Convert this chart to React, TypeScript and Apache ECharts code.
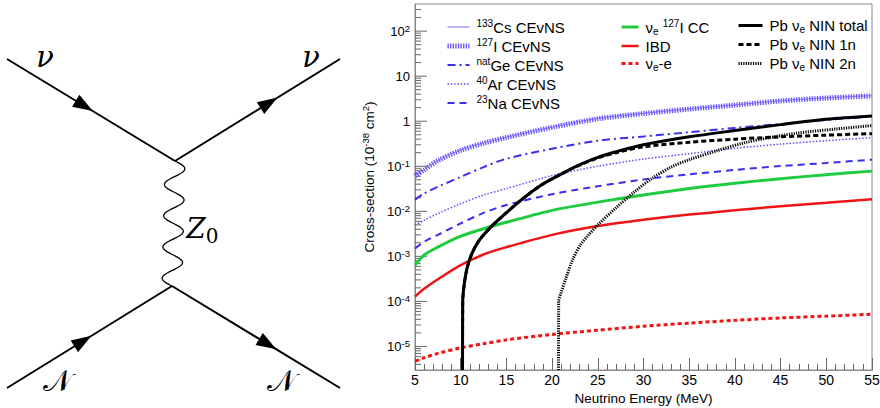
import React, { useEffect, useRef } from 'react';
import * as echarts from 'echarts';

// ---------- data ----------
const ENERGY = [5, 6, 7.5, 10, 12.5, 15, 20, 25, 30, 35, 40, 45, 50, 55];
const CS_CEVNS = [0.063, 0.084, 0.135, 0.23, 0.33, 0.44, 0.74, 1.15, 1.5, 1.88, 2.3, 2.85, 3.3, 3.7];
const I_CEVNS = [0.061, 0.083, 0.133, 0.225, 0.325, 0.435, 0.73, 1.13, 1.48, 1.86, 2.28, 2.82, 3.27, 3.65];
const GE_CEVNS = [0.018, 0.025, 0.035, 0.058, 0.096, 0.147, 0.245, 0.37, 0.46, 0.57, 0.71, 0.87, 1.07, 1.27];
const AR_CEVNS = [0.0049, 0.0063, 0.0089, 0.0148, 0.023, 0.032, 0.062, 0.1, 0.145, 0.19, 0.25, 0.31, 0.37, 0.43];
const NA_CEVNS = [0.0015, 0.0021, 0.003, 0.0054, 0.0092, 0.0138, 0.024, 0.036, 0.051, 0.066, 0.083, 0.101, 0.118, 0.14];
const I_CC = [0.00064, 0.00107, 0.0016, 0.0028, 0.0041, 0.0057, 0.0105, 0.016, 0.023, 0.032, 0.042, 0.053, 0.065, 0.078];
const IBD = [0.000128, 0.00019, 0.00031, 0.00064, 0.0011, 0.0016, 0.003, 0.0047, 0.0065, 0.0085, 0.0105, 0.013, 0.0155, 0.0185];
const NUE_E = [4.7e-6, 5.6e-6, 7e-6, 9.3e-6, 1.15e-5, 1.4e-5, 1.85e-5, 2.3e-5, 2.8e-5, 3.3e-5, 3.8e-5, 4.3e-5, 4.7e-5, 5.2e-5];

const PB_TOTAL_E = [10.2, 10.22, 10.4, 10.7, 11.2, 12, 13.4, 15, 16.3, 18.7, 21.4, 23.1, 25, 27, 30, 35, 40, 45, 50, 55];
const PB_TOTAL = [3e-6, 1e-4, 2.5e-4, 5.5e-4, 1.12e-3, 2.24e-3, 4.7e-3, 9.3e-3, 0.0158, 0.037, 0.074, 0.11, 0.158, 0.21, 0.3, 0.45, 0.62, 0.84, 1.1, 1.3];
const PB_1N_E = [10.2, 10.22, 10.4, 10.7, 11.2, 12, 13.4, 15, 16.3, 18.7, 21.4, 23.1, 25, 27, 30, 35, 40, 45, 50, 55];
const PB_1N = [3e-6, 1e-4, 2.5e-4, 5.5e-4, 1.12e-3, 2.24e-3, 4.7e-3, 9.3e-3, 0.0158, 0.037, 0.074, 0.108, 0.153, 0.2, 0.27, 0.34, 0.4, 0.45, 0.49, 0.53];
const PB_2N_E = [20.7, 20.72, 21, 21.5, 22.2, 23.1, 24, 25, 27, 29, 31, 33, 35, 38, 41, 44, 47, 51, 55];
const PB_2N = [3e-6, 1e-4, 1.6e-4, 3.2e-4, 8e-4, 1.8e-3, 3e-3, 5e-3, 0.012, 0.027, 0.055, 0.095, 0.14, 0.22, 0.33, 0.44, 0.55, 0.67, 0.8];

const X_MIN = 5;
const X_MAX = 55;
const Y_MIN = 3e-6;
const Y_MAX = 400;
const Y_DECADES = [-6, -5, -4, -3, -2, -1, 0, 1, 2];
const Y_MINOR_MULT = [2, 3, 4, 5, 6, 7, 8, 9];

// ---------- styling ----------
const FONT = "'Liberation Sans', Arial, Helvetica, sans-serif";
const BLUE_LIGHT = '#7a6cff';
const BLUE_HATCH = '#6650ff';
const BLUE = '#3a2cf0';
const BLUE_DOT = '#5f4cff';
const GREEN = '#1fcc3f';
const RED = '#f01414';

const LEGEND_LABELS: Record<string, string> = {
  '133Cs CEvNS': '{sup|133}{t|Cs CEvNS}',
  '127I CEvNS': '{sup|127}{t|I CEvNS}',
  'natGe CEvNS': '{sup|nat}{t|Ge CEvNS}',
  '40Ar CEvNS': '{sup|40}{t|Ar CEvNS}',
  '23Na CEvNS': '{sup|23}{t|Na CEvNS}',
  'νe 127I CC': '{t|ν}{sub|e}{t| }{sup|127}{t|I CC}',
  'IBD': '{t|IBD}',
  'νe-e': '{t|ν}{sub|e}{t|-e}',
  'Pb νe NIN total': '{t|Pb ν}{sub|e}{t| NIN total}',
  'Pb νe NIN 1n': '{t|Pb ν}{sub|e}{t| NIN 1n}',
  'Pb νe NIN 2n': '{t|Pb ν}{sub|e}{t| NIN 2n}',
};

const legendRich = {
  t: { fontSize: 15, fontFamily: FONT, color: '#000', lineHeight: 18 },
  sup: { fontSize: 10, fontFamily: FONT, color: '#000', lineHeight: 10, verticalAlign: 'top' },
  sub: { fontSize: 10, fontFamily: FONT, color: '#000', lineHeight: 10, verticalAlign: 'bottom' },
};

function pairs(xs: number[], ys: number[]) {
  return xs.map((x, i) => [x, ys[i]]);
}

function lineSeries(name: string, xs: number[], ys: number[], color: string, width: number, type: any, z: number) {
  return {
    name,
    type: 'line',
    data: pairs(xs, ys),
    symbol: 'none',
    showSymbol: false,
    smooth: 0.3,
    clip: true,
    z,
    lineStyle: { color, width, type, cap: 'butt' },
    itemStyle: { color },
    emphasis: { disabled: true },
  };
}

function makeLegend(names: string[], left: number, itemWidth: number) {
  return {
    data: names,
    orient: 'vertical',
    left,
    top: 13,
    itemWidth,
    itemHeight: 14,
    itemGap: 2.5,
    selectedMode: false,
    itemStyle: { opacity: 0 },
    lineStyle: { width: 'inherit' },
    formatter: (n: string) => LEGEND_LABELS[n] || n,
    textStyle: { rich: legendRich, padding: [0, 0, 0, 2] },
  };
}

// Feynman diagram helpers (pure decoration, pixel space)
function arrowPts(ax: number, ay: number, bx: number, by: number, t: number, len = 20, w = 14) {
  const cx = ax + (bx - ax) * t;
  const cy = ay + (by - ay) * t;
  const L = Math.hypot(bx - ax, by - ay);
  const ux = (bx - ax) / L;
  const uy = (by - ay) / L;
  const px = -uy;
  const py = ux;
  return [
    [cx + (ux * len) / 2, cy + (uy * len) / 2],
    [cx - (ux * len) / 2 + (px * w) / 2, cy - (uy * len) / 2 + (py * w) / 2],
    [cx - (ux * len) / 2 - (px * w) / 2, cy - (uy * len) / 2 - (py * w) / 2],
  ];
}

function wavePts(x1: number, y1: number, x2: number, y2: number, periods: number, amp: number) {
  const pts: number[][] = [];
  const N = 240;
  for (let i = 0; i <= N; i++) {
    const t = i / N;
    pts.push([x1 + (x2 - x1) * t + amp * Math.sin(2 * Math.PI * periods * t), y1 + (y2 - y1) * t]);
  }
  return pts;
}

function buildDiagram() {
  const V1 = [175, 161];
  const V2 = [172, 286];
  const TL = [7, 59];
  const TR = [340, 59];
  const BL = [7, 388];
  const BR = [340, 388];
  const ls = { stroke: '#000', lineWidth: 2 };
  const els: any[] = [
    { type: 'line', shape: { x1: TL[0], y1: TL[1], x2: V1[0], y2: V1[1] }, style: ls },
    { type: 'line', shape: { x1: V1[0], y1: V1[1], x2: TR[0], y2: TR[1] }, style: ls },
    { type: 'line', shape: { x1: BL[0], y1: BL[1], x2: V2[0], y2: V2[1] }, style: ls },
    { type: 'line', shape: { x1: V2[0], y1: V2[1], x2: BR[0], y2: BR[1] }, style: ls },
    { type: 'polygon', shape: { points: arrowPts(TL[0], TL[1], V1[0], V1[1], 0.46) }, style: { fill: '#000' } },
    { type: 'polygon', shape: { points: arrowPts(V1[0], V1[1], TR[0], TR[1], 0.57) }, style: { fill: '#000' } },
    { type: 'polygon', shape: { points: arrowPts(BL[0], BL[1], V2[0], V2[1], 0.46) }, style: { fill: '#000' } },
    { type: 'polygon', shape: { points: arrowPts(V2[0], V2[1], BR[0], BR[1], 0.57) }, style: { fill: '#000' } },
    { type: 'polyline', shape: { points: wavePts(V1[0], V1[1], V2[0], V2[1], 4, 10) }, style: { stroke: '#000', lineWidth: 1.3, fill: null } },
    { type: 'text', x: 45, y: 57, style: { text: 'ν', font: "italic 29px 'DejaVu Serif'", fill: '#000', align: 'center', verticalAlign: 'middle' } },
    { type: 'text', x: 311, y: 57, style: { text: 'ν', font: "italic 29px 'DejaVu Serif'", fill: '#000', align: 'center', verticalAlign: 'middle' } },
    { type: 'text', x: 57, y: 380, style: { text: '𝒩', font: "30px 'DejaVu Serif', 'DejaVu Sans'", fill: '#000', align: 'center', verticalAlign: 'middle' } },
    { type: 'text', x: 281, y: 380, style: { text: '𝒩', font: "30px 'DejaVu Serif', 'DejaVu Sans'", fill: '#000', align: 'center', verticalAlign: 'middle' } },
    { type: 'text', x: 196, y: 228, style: { text: 'Z', font: "italic 28px 'DejaVu Serif'", fill: '#000', align: 'center', verticalAlign: 'middle' } },
    { type: 'text', x: 212, y: 236, style: { text: '0', font: "20px 'DejaVu Serif'", fill: '#000', align: 'center', verticalAlign: 'middle' } },
  ];
  return els;
}

const Y_TICKS: number[][] = [];
Y_DECADES.forEach((d) => {
  const base = Math.pow(10, d);
  if (base >= Y_MIN && base <= Y_MAX) Y_TICKS.push([X_MIN, base, 1]);
  Y_MINOR_MULT.forEach((m) => {
    const v = m * base;
    if (v > Y_MIN * 1.01 && v < Y_MAX * 0.99) Y_TICKS.push([X_MIN, v, 0]);
  });
});

function yLabel(v: number) {
  const e = Math.log10(v);
  const r = Math.round(e);
  if (Math.abs(e - r) > 0.01) return '';
  if (r === 0) return '{b|1}';
  if (r === 1) return '{b|10}';
  return `{b|10}{s|${r}}`;
}

export default function App() {
  const ref = useRef<HTMLDivElement>(null);
  useEffect(() => {
    const chart = echarts.init(ref.current!, null, { renderer: 'svg' });
    const option: any = {
      animation: false,
      backgroundColor: '#fff',
      grid: {
        left: 415,
        right: 8,
        top: 4,
        bottom: 38,
        show: true,
        borderColor: '#8a8a8a',
        borderWidth: 1,
        containLabel: false,
        outerBoundsMode: 'none',
      },
      xAxis: {
        type: 'value',
        min: X_MIN,
        max: X_MAX,
        interval: 5,
        axisLine: { show: true, onZero: false, lineStyle: { color: '#8a8a8a', width: 1 } },
        axisTick: { show: true, inside: true, length: 12, lineStyle: { color: '#666' } },
        minorTick: { show: true, splitNumber: 5, length: 6, lineStyle: { color: '#666' } },
        splitLine: { show: false },
        axisLabel: { color: '#000', fontFamily: FONT, fontSize: 14, margin: 3 },
        name: 'Neutrino Energy (MeV)',
        nameLocation: 'middle',
        nameGap: 17,
        nameTextStyle: { color: '#000', fontFamily: FONT, fontSize: 13.5 },
      },
      yAxis: {
        type: 'log',
        logBase: 10,
        min: Y_MIN,
        max: Y_MAX,
        axisLine: { show: true, onZero: false, lineStyle: { color: '#8a8a8a', width: 1 } },
        axisTick: { show: false },
        splitLine: { show: false },
        axisLabel: {
          formatter: yLabel,
          margin: 5,
          showMinLabel: false,
          showMaxLabel: false,
          rich: {
            b: { fontSize: 13, fontFamily: FONT, color: '#000', lineHeight: 16 },
            s: { fontSize: 9.5, fontFamily: FONT, color: '#000', lineHeight: 9, verticalAlign: 'top' },
          },
        },
        name: '{n|Cross-section (10}{s|-38}{n| cm}{s|2}{n|)}',
        nameLocation: 'middle',
        nameGap: 33,
        nameTextStyle: {
          padding: [0, 0, 0, 20],
          rich: {
            n: { fontSize: 13.5, fontFamily: FONT, color: '#000', lineHeight: 17 },
            s: { fontSize: 9.5, fontFamily: FONT, color: '#000', lineHeight: 9, verticalAlign: 'top' },
          },
        },
      },
      legend: [
        makeLegend(['133Cs CEvNS', '127I CEvNS', 'natGe CEvNS', '40Ar CEvNS', '23Na CEvNS'], 440, 22),
        makeLegend(['νe 127I CC', 'IBD', 'νe-e'], 615, 17),
        makeLegend(['Pb νe NIN total', 'Pb νe NIN 1n', 'Pb νe NIN 2n'], 732, 24),
      ],
      graphic: buildDiagram(),
      series: [
        {
          type: 'custom',
          name: 'yticks',
          data: Y_TICKS,
          encode: { x: 0, y: 1 },
          silent: true,
          z: 1,
          renderItem: (params: any, api: any) => {
            const p = api.coord([api.value(0), api.value(1)]);
            const len = api.value(2) === 1 ? 12 : 6;
            return {
              type: 'line',
              shape: { x1: p[0], y1: p[1], x2: p[0] + len, y2: p[1] },
              style: { stroke: '#666', lineWidth: 1 },
            };
          },
        },
        lineSeries('127I CEvNS', ENERGY, I_CEVNS, BLUE_HATCH, 5, [1.3, 1.3], 3),
        lineSeries('133Cs CEvNS', ENERGY, CS_CEVNS, BLUE_LIGHT, 1, 'solid', 4),
        lineSeries('natGe CEvNS', ENERGY, GE_CEVNS, BLUE, 2, [8, 4, 2, 4], 3),
        lineSeries('40Ar CEvNS', ENERGY, AR_CEVNS, BLUE_DOT, 1.5, [1.5, 1.8], 3),
        lineSeries('23Na CEvNS', ENERGY, NA_CEVNS, BLUE, 2, [7, 5], 3),
        lineSeries('νe 127I CC', ENERGY, I_CC, GREEN, 3, 'solid', 3),
        lineSeries('IBD', ENERGY, IBD, RED, 2.5, 'solid', 3),
        lineSeries('νe-e', ENERGY, NUE_E, RED, 3, [4, 3], 3),
        lineSeries('Pb νe NIN 1n', PB_1N_E, PB_1N, '#000', 3, [5, 3], 4),
        lineSeries('Pb νe NIN 2n', PB_2N_E, PB_2N, '#000', 3, [1.2, 1.2], 4),
        lineSeries('Pb νe NIN total', PB_TOTAL_E, PB_TOTAL, '#000', 3, 'solid', 5),
      ],
    };
    chart.setOption(option);
    return () => chart.dispose();
  }, []);
  return (
    <div
      ref={ref}
      style={{ position: 'fixed', left: 0, top: 0, width: 880, height: 408, background: '#fff' }}
    />
  );
}
